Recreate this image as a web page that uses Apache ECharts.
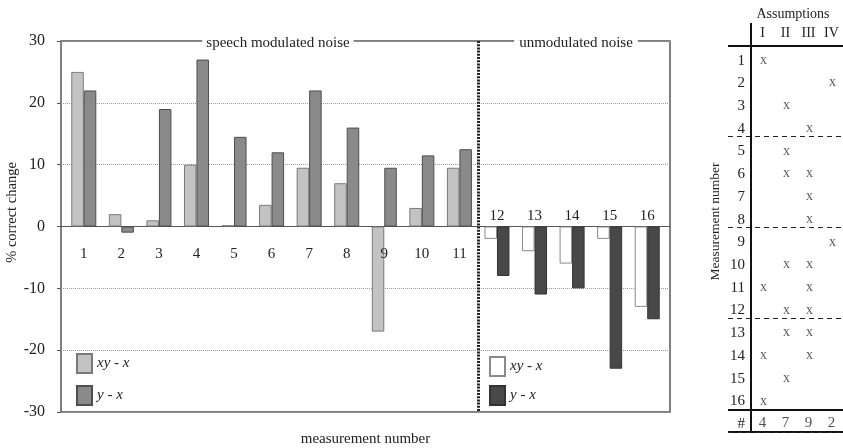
<!DOCTYPE html>
<html><head><meta charset="utf-8">
<script src="https://cdn.jsdelivr.net/npm/echarts@6/dist/echarts.min.js"></script>
<style>html,body{margin:0;padding:0;background:#fff}#c{width:843px;height:448px}</style>
</head><body><div id="c"></div>
<script>
// ---- data ----
const measurements = ['1','2','3','4','5','6','7','8','9','10','11','12','13','14','15','16'];
const modulatedCount = 11; // measurements 1-11: speech modulated noise, 12-16: unmodulated noise
const xyMinusX = [25, 2, 1, 10, 0.2, 3.5, 9.5, 7, -17, 3, 9.5, -2, -4, -6, -2, -13];
const yMinusX  = [22, -1, 19, 27, 14.5, 12, 22, 16, 9.5, 11.5, 12.5, -8, -11, -10, -23, -15];
const yMin = -30, yMax = 30, yStep = 10;

const assumptionCols = ['I', 'II', 'III', 'IV'];
const rowAssumptions = [
  ['I'], ['IV'], ['II'], ['III'],
  ['II'], ['II','III'], ['III'], ['III'],
  ['IV'], ['II','III'], ['I','III'], ['II','III'],
  ['II','III'], ['I','III'], ['II'], ['I']
];
const assumptionCounts = [4, 7, 9, 2];
const tableRows = [' '].concat(measurements, ['#']);
const tableCols = [''].concat(assumptionCols);

// ---- chart ----
const F = 'Liberation Serif';
const TXT = '#222';
const chart = echarts.init(document.getElementById('c'));

const modData = (arr) => arr.map((v, i) => i < modulatedCount ? v : '-');
const unmodData = (arr) => arr.map((v, i) => i >= modulatedCount ? v : '-');

const markData = [];
rowAssumptions.forEach((cols, r) => cols.forEach(c => markData.push([c, measurements[r]])));
const countData = assumptionCols.map((c, i) => [c, '#', assumptionCounts[i]]);

const barCommon = { xAxisIndex: 0, yAxisIndex: 0, barWidth: 12.5, barGap: '0%' };
const hiddenVal = (g) => ({ gridIndex: g, type: 'value', min: yMin, max: yMax, interval: yStep, show: false, splitLine: { show: false } });
const G = { outerBoundsMode: 'none', containLabel: false };

chart.setOption({
  animation: false,
  backgroundColor: '#fff',
  title: [
    { text: 'speech modulated noise', left: 274, top: 35, textAlign: 'center', backgroundColor: '#fff', padding: [1, 4],
      textStyle: { fontFamily: F, fontSize: 15, fontWeight: 'normal', color: TXT } },
    { text: 'unmodulated noise', left: 571, top: 35, textAlign: 'center', backgroundColor: '#fff', padding: [1, 5],
      textStyle: { fontFamily: F, fontSize: 15, fontWeight: 'normal', color: TXT } },
    { text: 'Assumptions', left: 793, top: 7, textAlign: 'center', padding: 0,
      textStyle: { fontFamily: F, fontSize: 14, fontWeight: 'normal', color: TXT } }
  ],
  legend: [
    { data: ['xy - x', 'y - x'], left: 76, top: 353, padding: 0, orient: 'vertical', icon: 'rect', itemWidth: 15, itemHeight: 19, itemGap: 11,
      selectedMode: false, textStyle: { fontFamily: F, fontStyle: 'italic', fontSize: 15, color: TXT } },
    { data: ['xy - x ', 'y - x '], left: 489, top: 356, padding: 0, orient: 'vertical', icon: 'rect', itemWidth: 15, itemHeight: 19, itemGap: 8,
      selectedMode: false, textStyle: { fontFamily: F, fontStyle: 'italic', fontSize: 15, color: TXT } }
  ],
  grid: [
    Object.assign({ left: 65, right: 177, top: 41, bottom: 36 }, G),
    Object.assign({ left: 61, right: 173, top: 41, bottom: 36, show: true, borderColor: '#555', borderWidth: 1.5 }, G),
    Object.assign({ left: 728, right: 0, top: 23, bottom: 16 }, G),
    // upper half of the plot (bottom edge = zero line): labels 12-16 above zero
    Object.assign({ left: 65, right: 177, top: 41, bottom: 222 }, G),
    // lower half of the plot (top edge = zero line): labels 1-11 below zero
    Object.assign({ left: 65, right: 177, top: 226, bottom: 36 }, G)
  ],
  xAxis: [
    { gridIndex: 0, type: 'category', data: measurements, position: 'bottom',
      axisLine: { show: false, onZero: false }, axisTick: { show: false }, axisLabel: { show: false },
      splitLine: { show: true, interval: (i) => i === 0 || i === modulatedCount, showMinLine: false, showMaxLine: false,
        lineStyle: { color: '#222', width: 3, type: [2, 1.2] } },
      name: 'measurement number', nameLocation: 'middle', nameGap: 20,
      nameTextStyle: { fontFamily: F, fontSize: 15, color: TXT } },
    { gridIndex: 3, type: 'category', data: measurements, position: 'bottom', z: 5,
      axisLine: { show: false, onZero: false }, axisTick: { show: false },
      axisLabel: { inside: true, interval: 0, margin: 2, fontFamily: F, fontSize: 15, color: TXT,
        formatter: (v, i) => i >= modulatedCount ? v : '' },
      splitLine: { show: false } },
    { gridIndex: 1, type: 'value', min: 0, max: 1,
      axisLine: { show: true, onZero: true, lineStyle: { color: '#555', width: 1.2 } },
      axisTick: { show: false }, axisLabel: { show: false }, splitLine: { show: false } },
    { gridIndex: 2, type: 'category', data: tableCols, position: 'top',
      axisLine: { show: false }, axisTick: { show: false },
      axisLabel: { inside: true, interval: 0, margin: 3, fontFamily: F, fontSize: 14, color: TXT },
      splitLine: { show: true, interval: (i) => i === 0 || i === 1, showMinLine: false, showMaxLine: false,
        lineStyle: { color: '#111', width: 2 } } },
    { gridIndex: 4, type: 'category', data: measurements, position: 'top', z: 5,
      axisLine: { show: false, onZero: false }, axisTick: { show: false },
      axisLabel: { inside: true, interval: 0, margin: 21, fontFamily: F, fontSize: 15, color: TXT,
        formatter: (v, i) => i < modulatedCount ? v : '' },
      splitLine: { show: false } }
  ],
  yAxis: [
    hiddenVal(0),
    { gridIndex: 1, type: 'value', min: yMin, max: yMax, interval: yStep,
      axisLine: { show: false }, axisTick: { show: true, length: 4, lineStyle: { color: '#555' } },
      axisLabel: { margin: 16, fontFamily: F, fontSize: 16, color: TXT },
      splitLine: { show: true, lineStyle: { type: 'dotted', color: '#999', width: 1 } },
      name: '% correct change', nameLocation: 'middle', nameGap: 41, nameMoveOverlap: false,
      nameTextStyle: { fontFamily: F, fontSize: 14.5, color: TXT, padding: [0, 0, 0, 28] } },
    { gridIndex: 2, type: 'category', data: tableRows, inverse: true,
      axisLine: { show: false }, axisTick: { show: false },
      axisLabel: { inside: true, align: 'right', margin: 17, interval: 0,
        formatter: (v) => '{r|' + v + '}',
        rich: { r: { fontFamily: F, fontSize: 15, color: TXT, padding: [7, 0, 0, 0] } } },
      splitLine: { show: true, interval: (i) => i === 1 || i === 17, lineStyle: { color: '#111', width: 2 } },
      name: 'Measurement number', nameLocation: 'middle', nameGap: 6,
      nameTextStyle: { fontFamily: F, fontSize: 13.5, color: TXT, padding: [0, 0, 0, 12] } },
    { gridIndex: 2, type: 'category', data: tableRows, inverse: true,
      axisLine: { show: false }, axisTick: { show: false }, axisLabel: { show: false },
      splitLine: { show: true, interval: (i) => i === 5 || i === 9 || i === 13,
        lineStyle: { color: '#222', width: 1.2, type: [5, 4] } } },
    hiddenVal(3),
    hiddenVal(4)
  ],
  series: [
    Object.assign({ type: 'bar', name: 'xy - x', stack: 'a', data: modData(xyMinusX),
      itemStyle: { color: '#c3c3c3', borderColor: '#7a7a7a', borderWidth: 1 } }, barCommon),
    Object.assign({ type: 'bar', name: 'y - x', stack: 'b', data: modData(yMinusX),
      itemStyle: { color: '#8a8a8a', borderColor: '#4e4e4e', borderWidth: 1 } }, barCommon),
    Object.assign({ type: 'bar', name: 'xy - x ', stack: 'a', data: unmodData(xyMinusX),
      itemStyle: { color: '#ffffff', borderColor: '#8a8a8a', borderWidth: 1 } }, barCommon),
    Object.assign({ type: 'bar', name: 'y - x ', stack: 'b', data: unmodData(yMinusX),
      itemStyle: { color: '#484848', borderColor: '#333', borderWidth: 1 } }, barCommon),
    { type: 'scatter', xAxisIndex: 3, yAxisIndex: 2, data: markData, symbolSize: 1,
      itemStyle: { color: 'rgba(0,0,0,0)' }, silent: true,
      label: { show: true, position: 'inside', formatter: 'x', offset: [1, 3], fontFamily: F, fontSize: 14, color: '#333' } },
    { type: 'scatter', xAxisIndex: 3, yAxisIndex: 2, data: countData, symbolSize: 1,
      itemStyle: { color: 'rgba(0,0,0,0)' }, silent: true,
      label: { show: true, position: 'inside', formatter: (p) => String(p.data[2]), offset: [0, 2], fontFamily: F, fontSize: 15, color: TXT } }
  ]
});
</script>
</body></html>
